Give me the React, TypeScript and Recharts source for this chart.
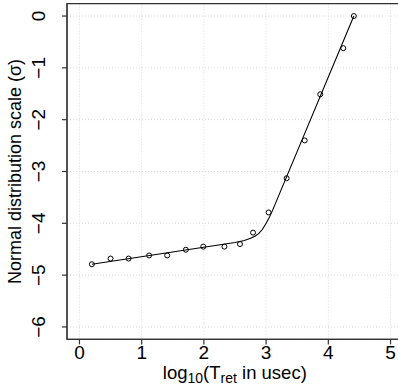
import React from "react";
import {
  ComposedChart,
  Line,
  Scatter,
  XAxis,
  YAxis,
  CartesianGrid,
  ReferenceArea,
} from "recharts";

// Observed points: log10(Tret in usec) vs normal distribution scale (sigma)
const obsX = [0.2, 0.5, 0.79, 1.12, 1.41, 1.71, 1.99, 2.33, 2.58, 2.79, 3.04, 3.33, 3.62, 3.87, 4.24, 4.41];
const obsY = [-4.79, -4.68, -4.68, -4.62, -4.62, -4.51, -4.45, -4.45, -4.4, -4.18, -3.79, -3.13, -2.4, -1.51, -0.62, 0];

// Fitted curve
const fitX = [0.2, 2.5, 2.65, 2.75, 2.82, 2.88, 2.94, 3.0, 3.05, 3.1, 4.41];
const fitY = [-4.79, -4.37, -4.33, -4.29, -4.25, -4.2, -4.12, -4.0, -3.89, -3.76, 0];

const xTicks = [0, 1, 2, 3, 4, 5];
const yTicks = [-6, -5, -4, -3, -2, -1, 0];

const xDomain: [number, number] = [-0.2, 5.2];
const yDomain: [number, number] = [-6.24, 0.24];

const points = obsX.map((x, i) => ({ x, y: obsY[i] }));
const fit = fitX.map((x, i) => ({ x, y: fitY[i] }));

const FONT = "'Liberation Sans', Arial, Helvetica, sans-serif";

const fmt = (v: number) => (v < 0 ? "\u2212" + Math.abs(v) : String(v));

const XTick = (props: any) => {
  const { x, y, payload } = props;
  return (
    <text x={x} y={y + 15} textAnchor="middle" fontSize={19} fontFamily={FONT} fill="#000">
      {fmt(payload.value)}
    </text>
  );
};

const YTick = (props: any) => {
  const { x, y, payload } = props;
  const tx = x - 17;
  return (
    <text
      x={tx}
      y={y}
      transform={`rotate(-90, ${tx}, ${y})`}
      textAnchor="middle"
      fontSize={19}
      fontFamily={FONT}
      fill="#000"
    >
      {fmt(payload.value)}
    </text>
  );
};

const XTitle = (props: any) => {
  const vb = props.viewBox || { x: 67, y: 339.4, width: 335.7, height: 50.6 };
  const cx = 234.8;
  const by = vb.y + 40;
  return (
    <text x={cx} y={by} textAnchor="middle" fontSize={18.5} fontFamily={FONT} fill="#000">
      <tspan>log</tspan>
      <tspan fontSize={14} dy={4}>10</tspan>
      <tspan dy={-4}>(T</tspan>
      <tspan fontSize={14} dy={4}>ret</tspan>
      <tspan dy={-4}> in usec)</tspan>
    </text>
  );
};

const YTitle = () => {
  const cx = 21;
  const cy = 171.5;
  return (
    <text
      x={cx}
      y={cy}
      transform={`rotate(-90, ${cx}, ${cy})`}
      textAnchor="middle"
      fontSize={18}
      fontFamily={FONT}
      fill="#000"
    >
      Normal distribution scale (σ)
    </text>
  );
};

const Circle = (props: any) => {
  const { cx, cy } = props;
  if (cx == null || cy == null) return null;
  return <circle cx={cx} cy={cy} r={2.5} fill="none" stroke="#000" strokeWidth={1} />;
};

export default function App() {
  return (
    <div
      style={{
        position: "absolute",
        left: 0,
        top: 0,
        width: 398,
        height: 390,
        overflow: "hidden",
        background: "#fff",
      }}
    >
      <ComposedChart
        width={403}
        height={390}
        margin={{ top: 3.6, right: 0, bottom: 0, left: 0 }}
      >
        <CartesianGrid stroke="#d9d9d9" strokeDasharray="1 2" />
        <XAxis
          type="number"
          dataKey="x"
          domain={xDomain}
          ticks={xTicks}
          allowDataOverflow
          height={50.6}
          tickSize={5}
          tickMargin={0}
          tick={<XTick />}
          axisLine={{ stroke: "#333", strokeWidth: 1.2 }}
          tickLine={{ stroke: "#333", strokeWidth: 1.2 }}
          label={<XTitle />}
        />
        <YAxis
          type="number"
          dataKey="y"
          domain={yDomain}
          ticks={yTicks}
          allowDataOverflow
          width={67}
          tickSize={5}
          tickMargin={0}
          tick={<YTick />}
          axisLine={{ stroke: "#333", strokeWidth: 1.2 }}
          tickLine={{ stroke: "#333", strokeWidth: 1.2 }}
          label={<YTitle />}
        />
        <ReferenceArea
          x1={xDomain[0]}
          x2={xDomain[1]}
          y1={yDomain[0]}
          y2={yDomain[1]}
          fill="none"
          stroke="#333"
          strokeWidth={1.2}
          ifOverflow="visible"
        />
        <Line
          data={fit}
          dataKey="y"
          type="linear"
          stroke="#000"
          strokeWidth={1.1}
          dot={false}
          activeDot={false}
          isAnimationActive={false}
        />
        <Scatter data={points} dataKey="y" shape={<Circle />} isAnimationActive={false} />
      </ComposedChart>
    </div>
  );
}
